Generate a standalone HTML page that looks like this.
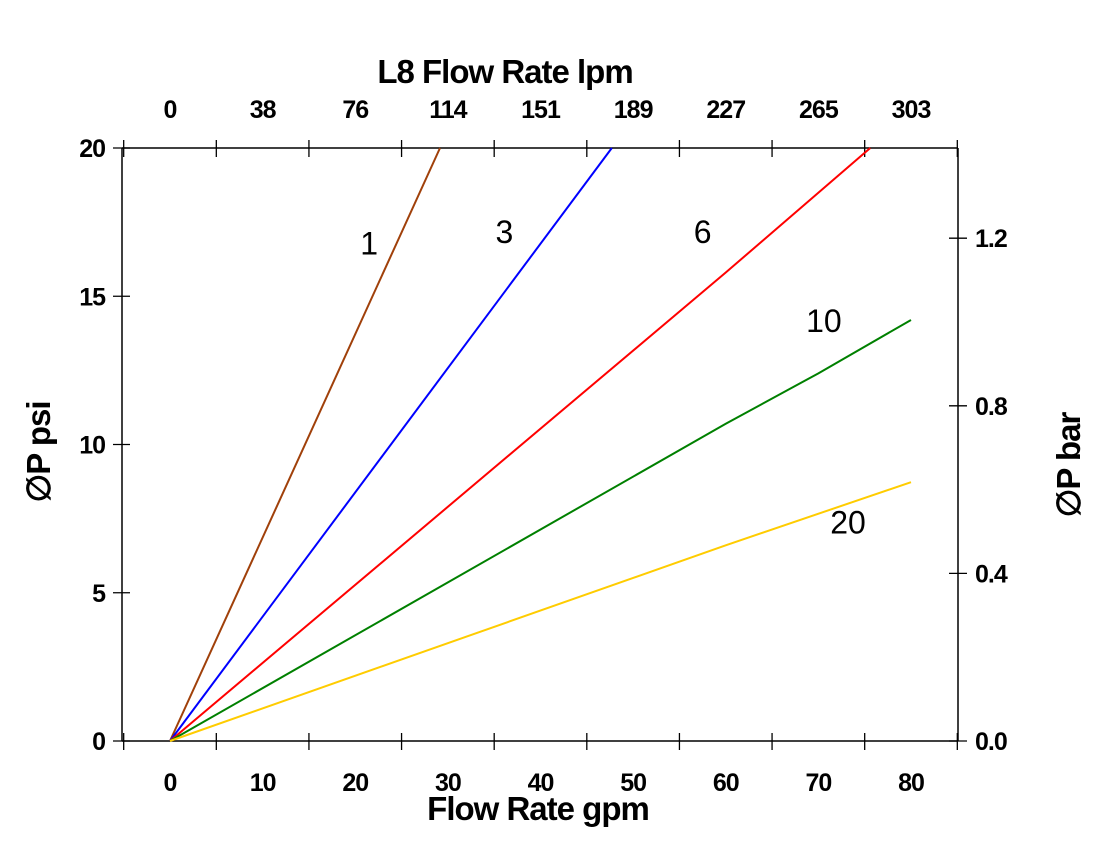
<!DOCTYPE html>
<html><head><meta charset="utf-8"><style>
html,body{margin:0;padding:0;background:#fff;}
svg{display:block;font-family:"Liberation Sans",Arial,sans-serif;}
</style></head><body>
<svg id="chart" width="1104" height="852" viewBox="0 0 1104 852" xmlns="http://www.w3.org/2000/svg"></svg>
<script>
const xTicksGpm = [0,10,20,30,40,50,60,70,80];
const xTicksLpm = ["0","38","76","114","151","189","227","265","303"];
const yTicksPsi = [0,5,10,15,20];
const yTicksBar = [0.0,0.4,0.8,1.2];
const seriesNames = ["1","3","6","10","20"];
const s1x = [0,29.15], s1y = [0,20];
const s3x = [0,47.7], s3y = [0,20];
const s6x = [0,60,75.6], s6y = [0,15.8,20];
const s10x = [0,60,70,80], s10y = [0,10.7,12.4,14.2];
const s20x = [0,50,60,80], s20y = [0,5.5,6.6,8.73];
const labelPos = [[21.5,16.4],[36.1,16.8],[57.5,16.8],[70.6,13.8],[73.2,7.0]];

const svg=document.getElementById('chart');
const NS='http://www.w3.org/2000/svg';
const X0=170,XK=9.2625,Y0=741,YK=29.65,BARK=419;
const sx=v=>X0+v*XK, sy=v=>Y0-v*YK, sb=v=>Y0-v*BARK;
const L=122,R=958,T=148,B=741;
function el(tag,attrs,text){const e=document.createElementNS(NS,tag);for(const k in attrs)e.setAttribute(k,attrs[k]);if(text!==undefined)e.textContent=text;svg.appendChild(e);return e;}

let e;
e=el('line',{x1:L,y1:B,x2:R,y2:B,stroke:'#000','stroke-width':1.5});

e=el('line',{x1:L,y1:T,x2:R,y2:T,stroke:'#000','stroke-width':1.5});

e=el('line',{x1:L,y1:T,x2:L,y2:B,stroke:'#000','stroke-width':1.5});

e=el('line',{x1:R,y1:T,x2:R,y2:B,stroke:'#000','stroke-width':1.5});


for(let v=-5;v<=85;v+=10){const x=sx(v);
 e=el('line',{x1:x,y1:B-8,x2:x,y2:B+9,stroke:'#000','stroke-width':1.3});
 
 e=el('line',{x1:x,y1:T-8,x2:x,y2:T+9,stroke:'#000','stroke-width':1.3});
 }
xTicksGpm.forEach((v,i)=>{
 e=el('text',{x:sx(v),y:791,'text-anchor':'middle','font-size':25,'font-weight':'bold','letter-spacing':-1},String(v));
 
 e=el('text',{x:sx(v),y:118,'text-anchor':'middle','font-size':25,'font-weight':'bold','letter-spacing':-1},xTicksLpm[i]);
 
});
yTicksPsi.forEach(v=>{const y=sy(v);
 e=el('line',{x1:L-9,y1:y,x2:L+8,y2:y,stroke:'#000','stroke-width':1.3});
 
 e=el('text',{x:105,y:y+9,'text-anchor':'end','font-size':25,'font-weight':'bold','letter-spacing':-1},String(v));
 });
yTicksBar.forEach(v=>{const y=sb(v);
 e=el('line',{x1:R-9,y1:y,x2:R+9,y2:y,stroke:'#000','stroke-width':1.3});
 
 e=el('text',{x:975,y:y+9,'font-size':25,'font-weight':'bold','letter-spacing':-1},v.toFixed(1));
 });

e=el('text',{x:538,y:820,'text-anchor':'middle','font-size':33,'font-weight':'bold','letter-spacing':-1},'Flow Rate gpm');

e=el('text',{x:505,y:83,'text-anchor':'middle','font-size':33,'font-weight':'bold','letter-spacing':-1},'L8  Flow Rate lpm');

e=el('text',{x:0,y:0,'text-anchor':'middle','font-size':33,'font-weight':'bold','letter-spacing':-1,transform:'translate(50,452) rotate(-90)'},'∅P psi');

e=el('text',{x:0,y:0,'text-anchor':'middle','font-size':33,'font-weight':'bold','letter-spacing':-1,transform:'translate(1080,465) rotate(-90)'},'∅P bar');


const series=[[s1x,s1y,'#a0400a'],[s3x,s3y,'#0000ff'],[s6x,s6y,'#ff0000'],[s10x,s10y,'#008000'],[s20x,s20y,'#ffcc00']];
series.forEach((s,i)=>{
 const pts=s[0].map((x,j)=>sx(x)+','+sy(s[1][j])).join(' ');
 e=el('polyline',{points:pts,fill:'none',stroke:s[2],'stroke-width':2});
 
 e=el('text',{x:sx(labelPos[i][0]),y:sy(labelPos[i][1]),'text-anchor':'middle','font-size':32},seriesNames[i]);
 
});
</script>
</body></html>
